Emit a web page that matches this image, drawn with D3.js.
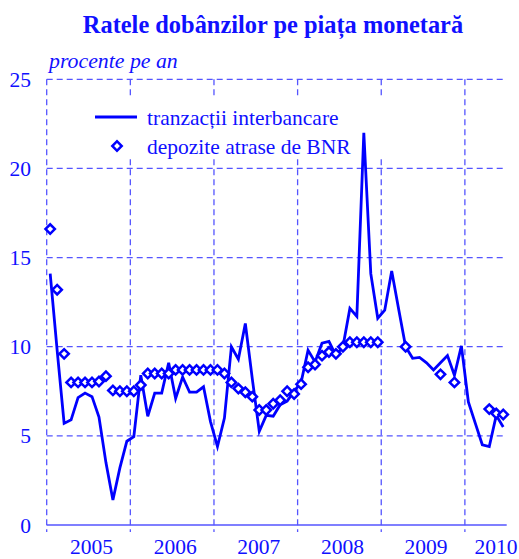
<!DOCTYPE html>
<html><head><meta charset="utf-8">
<script src="https://cdn.jsdelivr.net/npm/d3@7"></script>
<style>body{margin:0;background:#fff}svg{display:block}</style>
</head><body>
<script>
const years = ["2005","2006","2007","2008","2009","2010"];
const yTicks = [0,5,10,15,20,25];
const interbank = [
 14.1, 9.8, 5.7, 5.9, 7.15, 7.4, 7.2, 6.05, 3.5, 1.4, 3.2, 4.7,
 4.95, 8.4, 6.1, 7.4, 7.4, 9.1, 7.1, 8.3, 7.45, 7.45, 7.75, 5.8,
 4.4, 6.0, 10.0, 9.3, 11.3, 8.2, 5.25, 6.15, 6.1, 6.75, 6.95, 7.5,
 8.0, 9.8, 9.15, 10.2, 10.3, 9.5, 10.0, 12.15, 11.7, 22.0, 14.1, 11.6,
 12.05, 14.25, 12.1, 10.0, 9.35, 9.4, 9.1, 8.7, 9.1, 9.5, 8.4, 10.05,
 6.9, 5.7, 4.5, 4.4, 6.15, 5.5
];
const deposits = [
 16.6, 13.2, 9.6, 8.0, 8.0, 8.0, 8.0, 8.05, 8.35, 7.55, 7.5, 7.5,
 7.5, 7.85, 8.5, 8.5, 8.5, 8.5, 8.7, 8.7, 8.7, 8.7, 8.7, 8.7,
 8.7, 8.5, 8.0, 7.65, 7.45, 7.2, 6.45, 6.45, 6.8, 7.0, 7.5, 7.35,
 7.9, 8.85, 9.0, 9.5, 9.7, 9.6, 10.0, 10.25, 10.25, 10.25, 10.25, 10.25,
 null, null, null, 10.0, null, null, null, null, 8.45, null, 8.0, null,
 null, null, null, 6.5, 6.25, 6.2
];
const title = "Ratele dobânzilor pe piața monetară";
const unitLabel = "procente pe an";
const seriesNames = ["tranzacții interbancare", "depozite atrase de BNR"];

const W = 519, H = 559;
const blue = "#0000ff", gridC = "#5555ff", textC = "#1010ff";
const font = "'Liberation Serif','Times New Roman',serif";
const pL = 46.7, pR = 506.7, pT = 79.3, pB = 525;

const svg = d3.select("body").append("svg").attr("width", W).attr("height", H);

const months = d3.range(interbank.length);
const x = d3.scaleBand().domain(months).range([pL, pR]);
const y = d3.scaleLinear().domain([0, 25]).range([pB, pT]);
const cx = i => x(i) + x.bandwidth() / 2;

// horizontal gridlines
svg.append("g").selectAll("line").data(yTicks.filter(d => d > 0)).join("line")
  .attr("x1", pL).attr("x2", pR).attr("y1", d => y(d)).attr("y2", d => y(d))
  .attr("stroke", gridC).attr("stroke-width", 1.3).attr("stroke-dasharray", "6,4");

// vertical year boundaries
const yearStarts = years.map((yr, k) => k * 12);
svg.append("g").selectAll("line").data(yearStarts).join("line")
  .attr("x1", d => x(d)).attr("x2", d => x(d)).attr("y1", pT).attr("y2", pB + 7)
  .attr("stroke", gridC).attr("stroke-width", 1.3).attr("stroke-dasharray", "6,4");

// x axis line
svg.append("line").attr("x1", pL).attr("x2", pR).attr("y1", y(0)).attr("y2", y(0))
  .attr("stroke", gridC).attr("stroke-width", 1.3);

// y labels
svg.append("g").selectAll("text").data(yTicks).join("text")
  .attr("x", 31).attr("y", d => y(d)).attr("dy", "0.35em").attr("text-anchor", "end")
  .attr("font-family", font).attr("font-size", 21.5).attr("fill", textC).text(d => d);

// year labels
svg.append("g").selectAll("text").data(years).join("text")
  .attr("x", (d, k) => {
    const s = k * 12, e = Math.min(s + 12, months.length);
    let m = (x(s) + x(e - 1) + x.bandwidth()) / 2 + 3;
    if (e - s < 12) m = Math.min(m + 10, W - 23);
    return m;
  })
  .attr("y", 554).attr("text-anchor", "middle")
  .attr("font-family", font).attr("font-size", 21.5).attr("fill", textC).text(d => d);

// legend background
svg.append("rect").attr("x", 86).attr("y", 96).attr("width", 306).attr("height", 62).attr("fill", "#fff");

// interbank line
const line = d3.line().x((d, i) => cx(i)).y(d => y(d));
svg.append("path").datum(interbank).attr("d", line)
  .attr("fill", "none").attr("stroke", blue).attr("stroke-width", 2.8).attr("stroke-linejoin", "miter");

// deposits diamonds
const dsym = d3.symbol().type(d3.symbolSquare).size(44);
svg.append("g").selectAll("path")
  .data(deposits.map((v, i) => ({v, i})).filter(d => d.v != null)).join("path")
  .attr("d", dsym)
  .attr("transform", d => `translate(${cx(d.i)},${y(d.v)}) rotate(45)`)
  .attr("fill", "#fff").attr("stroke", blue).attr("stroke-width", 2.5);

// legend
svg.append("line").attr("x1", 95).attr("x2", 137).attr("y1", 117).attr("y2", 117)
  .attr("stroke", blue).attr("stroke-width", 2.8);
svg.append("path").attr("d", dsym).attr("transform", "translate(117,146) rotate(45)")
  .attr("fill", "#fff").attr("stroke", blue).attr("stroke-width", 2.5);
svg.append("g").selectAll("text").data(seriesNames).join("text")
  .attr("x", 147).attr("y", (d, k) => 117 + k * 29.5).attr("dy", "0.35em")
  .attr("font-family", font).attr("font-size", 21.5).attr("fill", textC).text(d => d);

// titles
svg.append("text").attr("x", 273).attr("y", 33).attr("text-anchor", "middle")
  .attr("font-family", font).attr("font-size", 24.4).attr("font-weight", "bold")
  .attr("fill", textC).text(title);
svg.append("text").attr("x", 49).attr("y", 68)
  .attr("font-family", font).attr("font-size", 21.8).attr("font-style", "italic")
  .attr("fill", textC).text(unitLabel);
</script>
</body></html>
